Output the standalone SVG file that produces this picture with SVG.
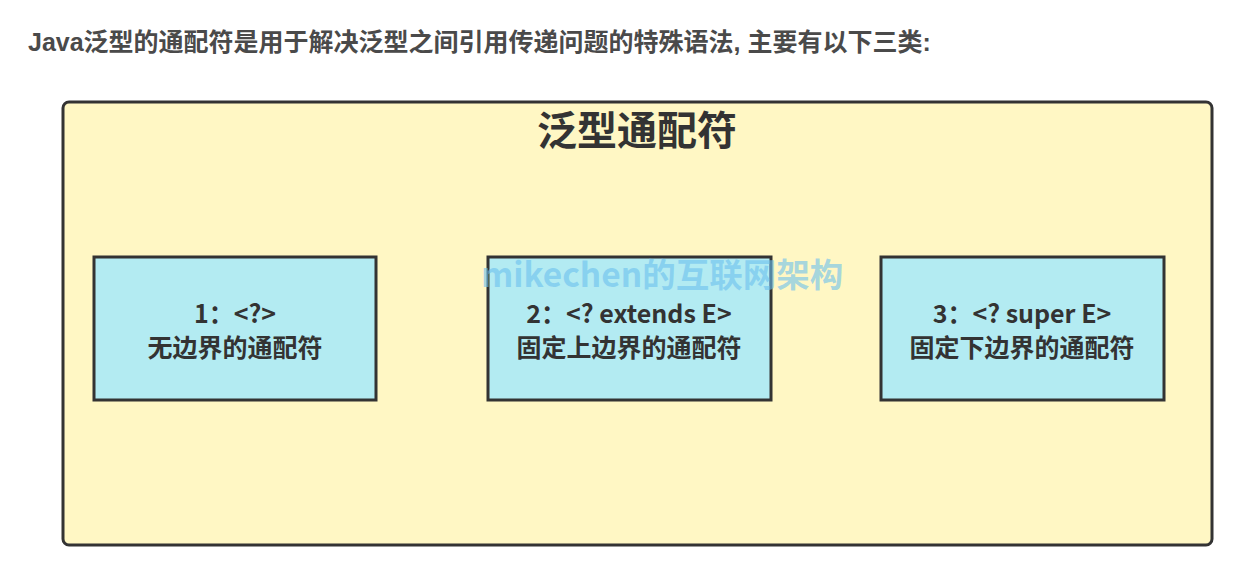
<svg xmlns="http://www.w3.org/2000/svg" width="1242" height="571" viewBox="0 0 1242 571">
<style>
.hdr{font-family:"Liberation Sans","Noto Sans CJK SC",sans-serif;font-weight:bold;font-size:25px;fill:#4a4a4a}
.title{font-family:"Noto Sans CJK SC",sans-serif;font-weight:bold;font-size:40px;fill:#333;text-anchor:middle}
.box{fill:#b3ebf2;stroke:#333;stroke-width:3}
.lbl{font-family:"Noto Sans CJK SC",sans-serif;font-weight:bold;font-size:25px;fill:#333;text-anchor:middle}
.wm{font-family:"Noto Sans CJK SC",sans-serif;font-weight:bold;font-size:33.5px;fill:#6cc0ee;fill-opacity:0.6}
</style>
<rect width="1242" height="571" fill="#fff"/>
<text class="hdr" x="28" y="51">Java泛型的通配符是用于解决泛型之间引用传递问题的特殊语法, 主要有以下三类:</text>
<g id="container">
<rect x="63" y="102" width="1149" height="443" rx="6" fill="#fff7c4" stroke="#333" stroke-width="3"/>
<text class="title" x="637" y="145">泛型通配符</text>
</g>
<g id="connectors"></g>
<g id="node1">
<rect class="box" x="94" y="257" width="282" height="143"/>
<text class="lbl"><tspan x="235" y="323">1：&lt;?&gt;</tspan><tspan x="235" y="357">无边界的通配符</tspan></text>
</g>
<g id="node2">
<rect class="box" x="488" y="257" width="283" height="143"/>
<text class="lbl"><tspan x="629" y="323">2：&lt;? extends E&gt;</tspan><tspan x="629" y="357">固定上边界的通配符</tspan></text>
</g>
<g id="node3">
<rect class="box" x="881" y="257" width="283" height="143"/>
<text class="lbl"><tspan x="1022" y="323">3：&lt;? super E&gt;</tspan><tspan x="1022" y="357">固定下边界的通配符</tspan></text>
</g>
<text class="wm" x="481" y="287">mikechen的互联网架构</text>
</svg>
